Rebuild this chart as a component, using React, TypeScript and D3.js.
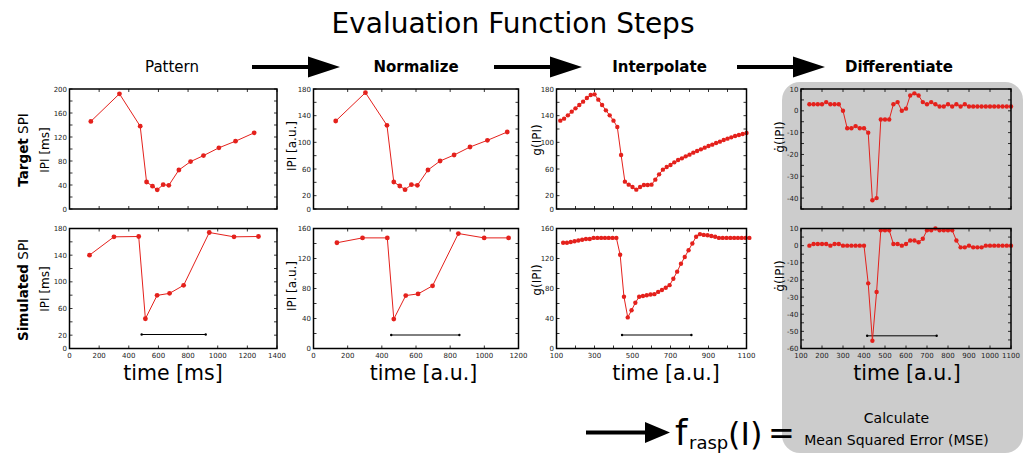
import React from "react";
import * as d3 from "d3";

const RED = "#e4211c";
const FONT = "DejaVu Sans, Verdana, sans-serif";

// ---------- data ----------
const targetPatternX = [144, 337, 477, 520, 560, 592, 632, 670, 738, 817, 904, 1008, 1120, 1246];
const targetPatternY = [146, 192, 138, 45, 38, 32, 40.5, 39.5, 65, 79, 89, 102, 113, 127];

const simPatternX = [135, 300, 467, 512, 591, 675, 770, 943, 1110, 1275];
const simPatternY = [140, 167.5, 168, 44.6, 79.7, 82.7, 94.8, 174, 167.5, 168];

const targetNormX = [130, 304, 430, 470, 505, 536, 573, 608, 670, 741, 823, 916, 1018, 1134];
const targetNormY = [132, 174.5, 125.5, 40.5, 34.5, 29, 36.5, 35.5, 58.5, 72, 81, 93, 103, 115.5];

const simNormX = [137, 287, 432, 470, 540, 612, 697, 848, 999, 1142];
const simNormY = [141, 147.5, 147.5, 39.3, 70.6, 72.8, 83.6, 153.3, 147.5, 147.5];

const targetInterpX = [120, 140, 160, 180, 200, 220, 240, 260, 280, 300, 320, 340, 360, 380, 400, 420, 440, 460, 480, 500, 520, 540, 560, 580, 600, 620, 640, 660, 680, 700, 720, 740, 760, 780, 800, 820, 840, 860, 880, 900, 920, 940, 960, 980, 1000, 1020, 1040, 1060, 1080, 1100];
const targetInterpY = [132.5, 135.5, 140.5, 146, 151, 156, 161, 166.5, 171, 172, 164, 156, 148, 140.5, 132.5, 123, 81, 41, 36.5, 33, 29, 33, 36, 36, 36.5, 44, 52, 59, 63, 66, 70, 73.5, 76, 79, 81.5, 84.5, 87, 89.5, 92, 94.5, 96.5, 99, 101, 103.5, 105.5, 107.5, 109.5, 111, 112.5, 114];

const simInterpX = [135, 155, 175, 195, 215, 235, 255, 275, 295, 315, 335, 355, 375, 395, 415, 435, 455, 475, 495, 515, 535, 555, 575, 595, 615, 635, 655, 675, 695, 715, 735, 755, 775, 795, 815, 835, 855, 875, 895, 915, 935, 955, 975, 995, 1015, 1035, 1055, 1075, 1095, 1115];
const simInterpY = [141, 141, 142, 143, 144, 145, 146, 146, 147.5, 147.5, 147.5, 147.5, 147.5, 147.5, 147.5, 125, 69, 41.5, 51, 61, 69, 70, 71, 72, 72.5, 75.5, 78, 81, 84.5, 93, 102.5, 113, 122, 131, 140, 149, 152.5, 151.5, 151, 150, 149, 147.5, 147.5, 147.5, 147.5, 147.5, 147.5, 147.5, 147.5, 147.5];

const derivX = [140, 160, 180, 200, 220, 240, 260, 280, 300, 320, 340, 360, 380, 400, 420, 440, 460, 480, 500, 520, 540, 560, 580, 600, 620, 640, 660, 680, 700, 720, 740, 760, 780, 800, 820, 840, 860, 880, 900, 920, 940, 960, 980, 1000, 1020, 1040, 1060, 1080, 1100];
const targetDerivY = [3, 3, 3, 3, 4, 3, 3, 3, 0, -8, -8, -7, -8, -8, -10, -41, -40, -4, -4, -4, 3, 4, 0, 1, 7, 8, 7, 4, 3, 4, 3, 2, 2, 3, 2, 3, 2, 3, 2, 2, 2, 2, 2, 2, 2, 2, 2, 2, 2];
const simDerivY = [0, 1, 1, 1, 1, 0, 1, 1, 0, 0, 0, 0, 0, 0, -22, -55.5, -27, 9, 9, 9, 1, 1, 0, 1, 3, 3, 2, 4, 9, 9, 10, 9, 9, 9, 9, 3, -1, -1, 0, -1, -1, -1, 0, 0, 0, 0, 0, 0, 0];

// interval markers (x start, x end, y level)
const simPatternBar = [487, 919, 21];
const simNormBar = [455, 854, 18];
const simInterpBar = [445, 810, 18];
const simDerivBar = [415, 746, -52.6];

// ticks
const msTicks = [0, 200, 400, 600, 800, 1000, 1200, 1400];
const auTicks = [0, 200, 400, 600, 800, 1000, 1200];
const gridTicks = [100, 200, 300, 400, 500, 600, 700, 800, 900, 1000, 1100];
const interpLabels = [100, 300, 500, 700, 900, 1100];
const y200Ticks = d3.range(0, 201, 20);
const y200Labels = [0, 40, 80, 120, 160, 200];
const y180Ticks = d3.range(0, 181, 20);
const y180Labels = [0, 20, 60, 100, 140, 180];
const y160Ticks = d3.range(0, 161, 20);
const y160Labels = [0, 40, 80, 120, 160];
const d45Ticks = d3.range(-45, 11, 5);
const d45Labels = [-40, -30, -20, -10, 0, 10];
const d60Ticks = d3.range(-60, 11, 5);
const d60Labels = [-60, -50, -40, -30, -20, -10, 0, 10];

type PanelProps = {
  left: number; top: number; width: number; height: number;
  xDomain: [number, number]; yDomain: [number, number];
  xTicks: number[]; xLabels: number[];
  yTicks: number[]; yLabels: number[];
  xs: number[]; ys: number[]; bar?: number[]; r: number;
  ylabel: string; ylx: number; yly: number; fill: string;
};

function Panel(p: PanelProps) {
  const x = d3.scaleLinear().domain(p.xDomain).range([p.left, p.left + p.width]);
  const y = d3.scaleLinear().domain(p.yDomain).range([p.top + p.height, p.top]);
  const line = d3.line<number>().x((_, i) => x(p.xs[i])).y((d) => y(d));
  const T = 3;
  const bottom = p.top + p.height;
  const right = p.left + p.width;
  return (
    <g>
      <rect x={p.left} y={p.top} width={p.width} height={p.height} fill={p.fill} />
      {p.xTicks.map((t) => (
        <g key={"xt" + t}>
          <line x1={x(t)} x2={x(t)} y1={bottom} y2={bottom - T} stroke="#000" strokeWidth={0.8} />
          <line x1={x(t)} x2={x(t)} y1={p.top} y2={p.top + T} stroke="#000" strokeWidth={0.8} />
        </g>
      ))}
      {p.yTicks.map((t) => (
        <g key={"yt" + t}>
          <line x1={p.left} x2={p.left + T} y1={y(t)} y2={y(t)} stroke="#000" strokeWidth={0.8} />
          <line x1={right} x2={right - T} y1={y(t)} y2={y(t)} stroke="#000" strokeWidth={0.8} />
        </g>
      ))}
      {p.xLabels.map((t) => (
        <text key={"xl" + t} x={x(t)} y={bottom + 9.5} fontSize={7} textAnchor="middle" fill="#222" fontFamily={FONT}>{t}</text>
      ))}
      {p.yLabels.map((t) => (
        <text key={"yl" + t} x={p.left - 2.5} y={y(t) + 2.5} fontSize={7} textAnchor="end" fill="#222" fontFamily={FONT}>{t}</text>
      ))}
      {p.bar && (
        <g>
          <line x1={x(p.bar[0])} x2={x(p.bar[1])} y1={y(p.bar[2])} y2={y(p.bar[2])} stroke="#000" strokeWidth={1} />
          <circle cx={x(p.bar[0])} cy={y(p.bar[2])} r={1.2} fill="#000" />
          <circle cx={x(p.bar[1])} cy={y(p.bar[2])} r={1.2} fill="#000" />
        </g>
      )}
      <path d={line(p.ys) || ""} fill="none" stroke={RED} strokeWidth={1} />
      {p.ys.map((d, i) => (
        <circle key={i} cx={x(p.xs[i])} cy={y(d)} r={p.r} fill={RED} />
      ))}
      <rect x={p.left} y={p.top} width={p.width} height={p.height} fill="none" stroke="#000" strokeWidth={1.5} />
      <text transform={`translate(${p.ylx},${p.yly}) rotate(-90)`} fontSize={12} textAnchor="middle" fontFamily={FONT} fill="#000">{p.ylabel}</text>
    </g>
  );
}

const COLS = [
  { left: 69.5, width: 207.5 },
  { left: 313.5, width: 205 },
  { left: 556.5, width: 190 },
  { left: 801, width: 210 },
];
const ROWS = [{ top: 89, height: 120 }, { top: 228.5, height: 120 }];

function Arrow({ x0, x1, hx, y }: { x0: number; x1: number; hx: number; y: number }) {
  const pts = [[x0, y - 2], [hx, y - 2], [hx, y - 10.5], [x1, y], [hx, y + 10.5], [hx, y + 2], [x0, y + 2]];
  return <polygon points={pts.map((q) => q.join(",")).join(" ")} fill="#000" />;
}

export default function App() {
  const W = 1026, H = 457;
  const panels: PanelProps[] = [
    { ...COLS[0], ...ROWS[0], xDomain: [0, 1400], yDomain: [0, 200], xTicks: msTicks, xLabels: [], yTicks: y200Ticks, yLabels: y200Labels, xs: targetPatternX, ys: targetPatternY, r: 2.4, ylabel: "IPI [ms]", ylx: 49, yly: 150, fill: "#fff" },
    { ...COLS[0], ...ROWS[1], xDomain: [0, 1400], yDomain: [0, 180], xTicks: msTicks, xLabels: msTicks, yTicks: y180Ticks, yLabels: y180Labels, xs: simPatternX, ys: simPatternY, bar: simPatternBar, r: 2.4, ylabel: "IPI [ms]", ylx: 49, yly: 289, fill: "#fff" },
    { ...COLS[1], ...ROWS[0], xDomain: [0, 1200], yDomain: [0, 180], xTicks: auTicks, xLabels: [], yTicks: y180Ticks, yLabels: y180Labels, xs: targetNormX, ys: targetNormY, r: 2.4, ylabel: "IPI [a.u.]", ylx: 296, yly: 146, fill: "#fff" },
    { ...COLS[1], ...ROWS[1], xDomain: [0, 1200], yDomain: [0, 160], xTicks: auTicks, xLabels: auTicks, yTicks: y160Ticks, yLabels: y160Labels, xs: simNormX, ys: simNormY, bar: simNormBar, r: 2.4, ylabel: "IPI [a.u.]", ylx: 296, yly: 286, fill: "#fff" },
    { ...COLS[2], ...ROWS[0], xDomain: [100, 1100], yDomain: [0, 180], xTicks: gridTicks, xLabels: [], yTicks: y180Ticks, yLabels: y180Labels, xs: targetInterpX, ys: targetInterpY, r: 2.2, ylabel: "g(IPI)", ylx: 541, yly: 140, fill: "#fff" },
    { ...COLS[2], ...ROWS[1], xDomain: [100, 1100], yDomain: [0, 160], xTicks: gridTicks, xLabels: interpLabels, yTicks: y160Ticks, yLabels: y160Labels, xs: simInterpX, ys: simInterpY, bar: simInterpBar, r: 2.2, ylabel: "g(IPI)", ylx: 541, yly: 280, fill: "#fff" },
    { ...COLS[3], ...ROWS[0], xDomain: [100, 1100], yDomain: [-45, 10], xTicks: gridTicks, xLabels: [], yTicks: d45Ticks, yLabels: d45Labels, xs: derivX, ys: targetDerivY, r: 2.2, ylabel: "ġ(IPI)", ylx: 784, yly: 137, fill: "none" },
    { ...COLS[3], ...ROWS[1], xDomain: [100, 1100], yDomain: [-60, 10], xTicks: gridTicks, xLabels: gridTicks, yTicks: d60Ticks, yLabels: d60Labels, xs: derivX, ys: simDerivY, bar: simDerivBar, r: 2.2, ylabel: "ġ(IPI)", ylx: 784, yly: 276, fill: "none" },
  ];
  const steps = [
    { t: "Pattern", x: 172, bold: false },
    { t: "Normalize", x: 416, bold: true },
    { t: "Interpolate", x: 659.5, bold: true },
    { t: "Differentiate", x: 899, bold: true },
  ];
  const arrows = [
    { x0: 252, x1: 340, hx: 308, y: 67 },
    { x0: 494, x1: 582, hx: 550, y: 67 },
    { x0: 737, x1: 825, hx: 793, y: 67 },
    { x0: 586, x1: 670, hx: 645, y: 432.5 },
  ];
  const xAxisTitles = [
    { t: "time [ms]", x: 173 },
    { t: "time [a.u.]", x: 423.5 },
    { t: "time [a.u.]", x: 666 },
    { t: "time [a.u.]", x: 907 },
  ];
  return (
    <svg width={W} height={H} style={{ position: "absolute", left: 0, top: 0, background: "#fff" }} fontFamily={FONT}>
      <rect x={0} y={0} width={W} height={H} fill="#fff" />
      <rect x={782} y={82} width={241} height={371} rx={18} ry={18} fill="#cccccc" />
      <text x={513} y={33} fontSize={28} textAnchor="middle" fill="#000">Evaluation Function Steps</text>
      {steps.map((s) => (
        <text key={s.t} x={s.x} y={72} fontSize={15} fontWeight={s.bold ? "bold" : "normal"} textAnchor="middle" fill="#000">{s.t}</text>
      ))}
      {arrows.map((a, i) => <Arrow key={i} {...a} />)}
      <text transform="translate(28,150) rotate(-90)" fontSize={13.5} textAnchor="middle" fill="#000">
        <tspan fontWeight="bold">Target</tspan><tspan> SPI</tspan>
      </text>
      <text transform="translate(28,290) rotate(-90)" fontSize={13.5} textAnchor="middle" fill="#000">
        <tspan fontWeight="bold">Simulated</tspan><tspan> SPI</tspan>
      </text>
      {panels.map((p, i) => <Panel key={i} {...p} />)}
      {xAxisTitles.map((a, i) => (
        <text key={i} x={a.x} y={380} fontSize={20.5} textAnchor="middle" fill="#000">{a.t}</text>
      ))}
      <text x={675} y={445} fontSize={35} fill="#000">f</text>
      <text x={689} y={449} fontSize={18} fill="#000">rasp</text>
      <text x={728} y={445} fontSize={32} fill="#000">(I)</text>
      <text x={768} y={444} fontSize={32} fill="#000">=</text>
      <text x={896.5} y={423} fontSize={14} textAnchor="middle" fill="#000">Calculate</text>
      <text x={896.5} y={445} fontSize={14} textAnchor="middle" fill="#000">Mean Squared Error (MSE)</text>
    </svg>
  );
}
